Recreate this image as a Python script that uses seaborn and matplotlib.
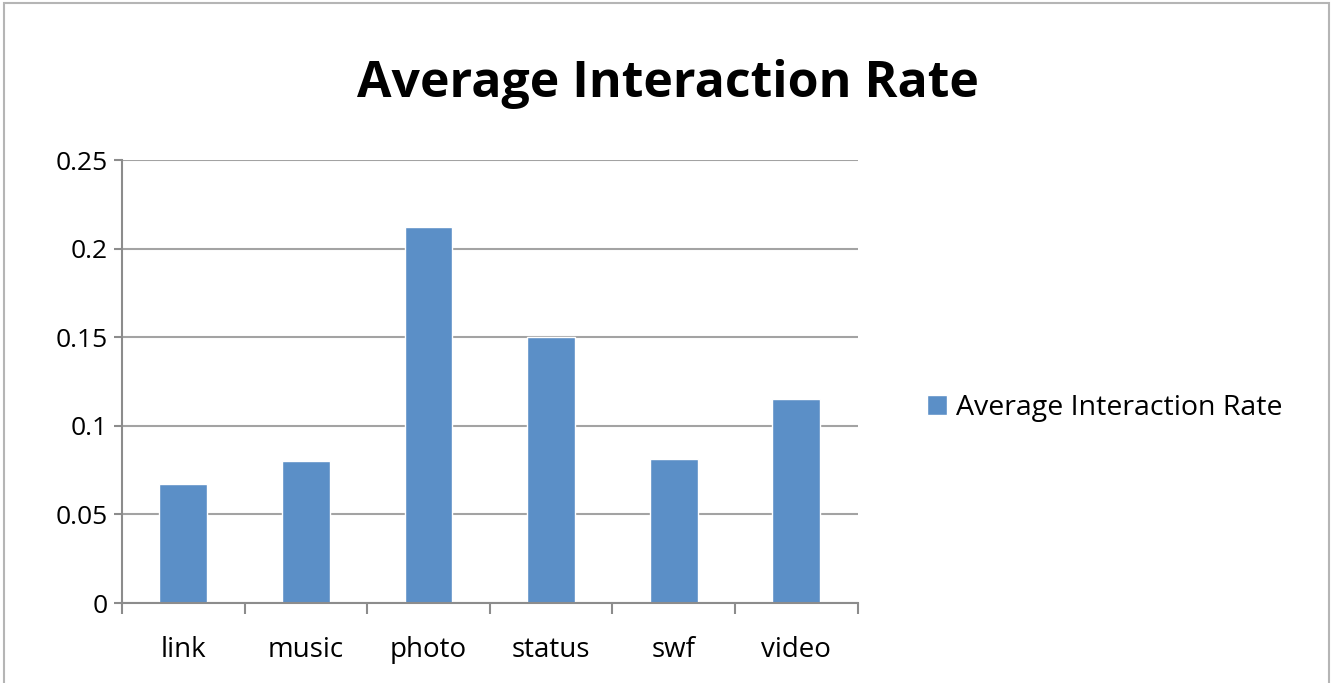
import pandas as pd
import matplotlib.pyplot as plt
import seaborn as sns
from matplotlib.patches import Rectangle

categories = ["link", "music", "photo", "status", "swf", "video"]
rates = [0.067, 0.080, 0.212, 0.150, 0.081, 0.115]
series_name = "Average Interaction Rate"
y_ticks = [0, 0.05, 0.1, 0.15, 0.2, 0.25]
y_tick_labels = ["0", "0.05", "0.1", "0.15", "0.2", "0.25"]

df = pd.DataFrame({"type": categories, "rate": rates, "series": series_name})

sns.set_style("white")
plt.rcParams['font.family'] = ['Open Sans', 'DejaVu Sans']
plt.rcParams['text.color'] = 'black'
plt.rcParams['xtick.color'] = 'black'
plt.rcParams['ytick.color'] = 'black'

fig = plt.figure(figsize=(13.36, 6.83), dpi=100)
ax = fig.add_axes([0.0913, 0.1171, 0.5507, 0.6486])

sns.barplot(data=df, x="type", y="rate", hue="series", palette=["#5b8fc7"],
            width=0.39, saturation=1, ax=ax)

ax.set_ylim(0, 0.25)
ax.set_xlim(-0.5, 5.5)
ax.set_yticks(y_ticks)
ax.set_yticklabels(y_tick_labels)
ax.yaxis.grid(True, color="#a3a3a3", linewidth=1.5)
ax.set_axisbelow(True)
ax.set_xlabel("")
ax.set_ylabel("")

# category ticks sit between the bars
ax.set_xticks(range(len(categories)))
ax.set_xticks([i - 0.5 for i in range(len(categories) + 1)], minor=True)
ax.tick_params(axis="x", which="major", length=0, pad=24, labelsize=20)
ax.tick_params(axis="x", which="minor", length=8, width=1.5, color="#8c8c8c", direction="out")
ax.tick_params(axis="y", length=6, width=1.5, color="#8c8c8c", direction="out", pad=4, labelsize=19)
ax.tick_params(axis="y", left=True)
ax.tick_params(axis="x", which="minor", bottom=True)

sns.despine(ax=ax, top=True, right=True)
for side in ["left", "bottom"]:
    ax.spines[side].set_color("#8c8c8c")
    ax.spines[side].set_linewidth(1.5)

leg = ax.legend(loc="center left", bbox_to_anchor=(1.06, 0.44), frameon=False,
                fontsize=20.5, handlelength=0.7, handleheight=0.7, handletextpad=0.3)

fig.text(0.5, 0.877, "Average Interaction Rate", ha="center", va="center",
         fontsize=36, fontweight="bold")

fig.patches.append(Rectangle((0.003, -0.01), 0.992, 1.005, transform=fig.transFigure,
                             fill=False, edgecolor="#b5b5b5", linewidth=1.5))

plt.savefig("out.png", dpi=100)
plt.close()
